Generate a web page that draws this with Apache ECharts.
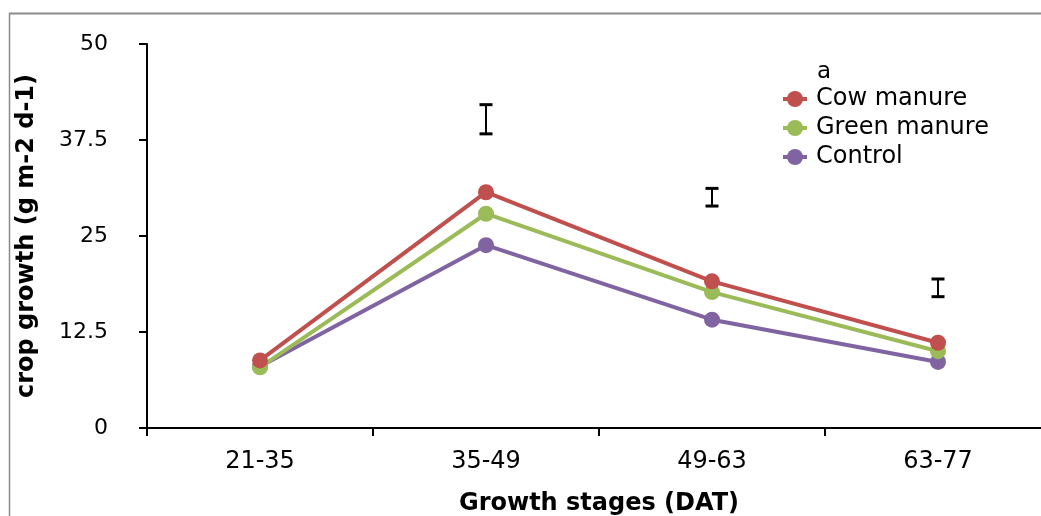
<!DOCTYPE html>
<html>
<head>
<meta charset="utf-8">
<script src="https://cdn.jsdelivr.net/npm/echarts@6/dist/echarts.min.js"></script>
<style>html,body{margin:0;padding:0;background:#fff}#c{width:1041px;height:516px}</style>
</head>
<body>
<div id="c"></div>
<script>
var categories = ['21-35', '35-49', '49-63', '63-77'];
var cowManure = [8.8, 30.7, 19.1, 11.1];
var greenManure = [7.9, 27.9, 17.7, 10.0];
var control = [8.0, 23.8, 14.1, 8.6];
var errCategories = ['35-49', '49-63', '63-77'];
var errLow = [38.3, 28.9, 17.1];
var errHigh = [42.1, 31.2, 19.4];
var yTicks = [0, 12.5, 25, 37.5, 50];

var FONT = 'DejaVu Sans';
var chart = echarts.init(document.getElementById('c'));
var errData = errCategories.map(function (c, i) { return [c, errLow[i], errHigh[i]]; });

function lineSeries(name, data, color, z) {
  return {
    name: name, type: 'line', data: data, z: z,
    symbol: 'circle', symbolSize: 16,
    lineStyle: { color: color, width: 4 },
    itemStyle: { color: color },
    emphasis: { disabled: true },
    animation: false
  };
}

chart.setOption({
  animation: false,
  textStyle: { fontFamily: FONT },
  title: {
    text: 'a', left: 812, top: 56,
    textStyle: { fontFamily: FONT, fontSize: 23, fontWeight: 'normal', color: '#000' }
  },
  legend: {
    orient: 'vertical', left: 776, top: 82,
    data: ['Cow manure', 'Green manure', 'Control'],
    itemWidth: 24, itemHeight: 20, itemGap: 5,
    lineStyle: { width: 4 },
    textStyle: { fontFamily: FONT, fontSize: 24, color: '#000', padding: [0, 0, 0, 4] }
  },
  grid: { left: 147, top: 44, width: 904, height: 384, outerBoundsMode: 'none', containLabel: false },
  xAxis: {
    type: 'category', data: categories, boundaryGap: true,
    name: 'Growth stages (DAT)', nameLocation: 'middle', nameGap: 64,
    nameTextStyle: { fontFamily: FONT, fontSize: 24, fontWeight: 'bold', color: '#000' },
    axisLine: { lineStyle: { color: '#000', width: 2 } },
    axisTick: { show: true, length: 8, lineStyle: { color: '#000', width: 2 } },
    axisLabel: { fontFamily: FONT, fontSize: 24, color: '#000', margin: 22 },
    splitLine: { show: false }
  },
  yAxis: {
    type: 'value', min: 0, max: 50, interval: 12.5,
    name: 'crop growth (g m-2 d-1)', nameLocation: 'middle', nameGap: 108,
    nameTextStyle: { fontFamily: FONT, fontSize: 24, fontWeight: 'bold', color: '#000' },
    axisLine: { show: true, lineStyle: { color: '#000', width: 2 } },
    axisTick: { show: true, length: 8, lineStyle: { color: '#000', width: 2 } },
    axisLabel: {
      fontFamily: FONT, fontSize: 22, color: '#000', margin: 39,
      formatter: function (v) { return yTicks.indexOf(v) >= 0 ? String(v) : ''; }
    },
    splitLine: { show: false }
  },
  graphic: [
    { type: 'line', shape: { x1: 9, y1: 13.5, x2: 1041, y2: 13.5 }, style: { stroke: '#8a8a8a', lineWidth: 2 }, silent: true },
    { type: 'line', shape: { x1: 9.5, y1: 13, x2: 9.5, y2: 516 }, style: { stroke: '#8a8a8a', lineWidth: 1.5 }, silent: true }
  ],
  series: [
    lineSeries('Control', control, '#8064A2', 2),
    lineSeries('Green manure', greenManure, '#9BBB59', 3),
    lineSeries('Cow manure', cowManure, '#C0504D', 4),
    {
      type: 'custom', name: 'LSD', data: errData, z: 5,
      encode: { x: 0, y: [1, 2] },
      renderItem: function (params, api) {
        var x = api.coord([api.value(0), api.value(1)])[0];
        var lo = api.coord([api.value(0), api.value(1)])[1];
        var hi = api.coord([api.value(0), api.value(2)])[1];
        var hw = 6.5;
        return {
          type: 'group',
          children: [
            { type: 'line', shape: { x1: x, y1: lo, x2: x, y2: hi }, style: { stroke: '#000', lineWidth: 2 } },
            { type: 'line', shape: { x1: x - hw, y1: hi, x2: x + hw, y2: hi }, style: { stroke: '#000', lineWidth: 3 } },
            { type: 'line', shape: { x1: x - hw, y1: lo, x2: x + hw, y2: lo }, style: { stroke: '#000', lineWidth: 3 } }
          ]
        };
      },
      animation: false
    }
  ]
});
</script>
</body>
</html>
